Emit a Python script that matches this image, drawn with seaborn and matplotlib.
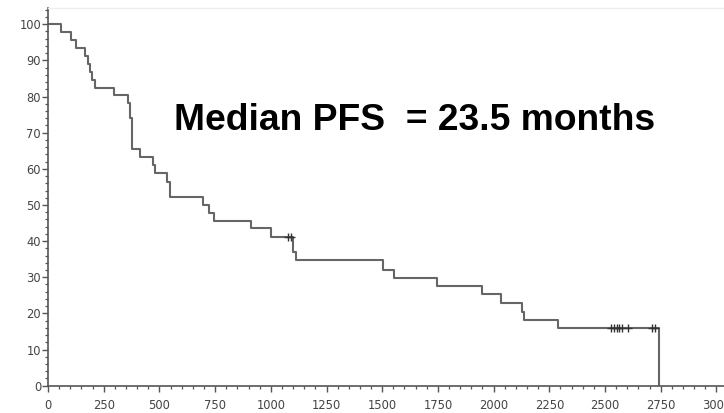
import numpy as np
import pandas as pd
import matplotlib
matplotlib.use("Agg")
import matplotlib.pyplot as plt
import seaborn as sns
from matplotlib.ticker import MultipleLocator

# Kaplan-Meier step curve (days, % progression-free)
times = [0, 58, 102, 126, 166, 181, 188, 199, 211, 296, 360, 368, 375, 379,
         413, 473, 482, 533, 548, 697, 724, 745, 910, 1000, 1101, 1113,
         1503, 1552, 1744, 1947, 2033, 2126, 2136, 2290, 2742]
surv = [100, 97.8, 95.6, 93.4, 91.2, 89.0, 86.9, 84.7, 82.5, 80.3, 78.1, 74.1, 71.7, 65.4,
        63.2, 61.0, 58.8, 56.4, 52.1, 50.0, 47.8, 45.7, 43.5, 41.2, 37.1, 34.7,
        32.1, 29.9, 27.5, 25.4, 23.0, 20.5, 18.2, 16.0, 0]

# censored observations
cens_t = [1078, 1090, 2525, 2540, 2552, 2562, 2575, 2605, 2712, 2725]
cens_s = [41.2, 41.2, 16.0, 16.0, 16.0, 16.0, 16.0, 16.0, 16.0, 16.0]

x_ticks = [0, 250, 500, 750, 1000, 1250, 1500, 1750, 2000, 2250, 2500, 2750, 3000]
y_ticks = [0, 10, 20, 30, 40, 50, 60, 70, 80, 90, 100]

annotation = "Median PFS  = 23.5 months"

sns.set_style("white")
plt.rcParams["font.family"] = ["DejaVu Sans"]

W, H = 724, 413
fig = plt.figure(figsize=(W / 100, H / 100), dpi=100)
left, bottom, top = 48, 27.3, 405
ax = fig.add_axes([left / W, bottom / H, 1 - left / W, (top - bottom) / H])

df = pd.DataFrame({"t": times, "s": surv})
sns.lineplot(data=df, x="t", y="s", drawstyle="steps-post", estimator=None,
             sort=False, color="#666666", lw=1.5, ax=ax)
sns.scatterplot(x=cens_t, y=cens_s, marker="+", s=28, color="#333333",
                linewidth=1.0, ax=ax, zorder=3)

ax.set_xlim(0, 3034)
ax.set_ylim(0, 104.5)
ax.set_xticks(x_ticks)
ax.set_yticks(y_ticks)
ax.xaxis.set_minor_locator(MultipleLocator(50))
ax.yaxis.set_minor_locator(MultipleLocator(2))
ax.set_xlabel("")
ax.set_ylabel("")

for side in ["left", "bottom"]:
    ax.spines[side].set_color("#555555")
    ax.spines[side].set_linewidth(1.2)
ax.spines["top"].set_color("#eeeeee")
ax.spines["top"].set_linewidth(1.0)
ax.spines["right"].set_visible(False)

ax.tick_params(which="both", bottom=True, left=True, direction="out", color="#555555")
ax.tick_params(which="major", length=4.5, width=1.0, labelsize=8.3, labelcolor="#444444")
ax.tick_params(which="minor", length=2.5, width=0.9)
ax.tick_params(axis="x", which="major", pad=5)
ax.tick_params(axis="y", which="major", pad=0.5)

fig.text(174 / W, (H - 130) / H, annotation, ha="left", va="baseline",
         fontsize=26.8, fontweight="bold", family=["Liberation Sans", "DejaVu Sans"],
         color="black")

fig.savefig("out.png", dpi=100)
